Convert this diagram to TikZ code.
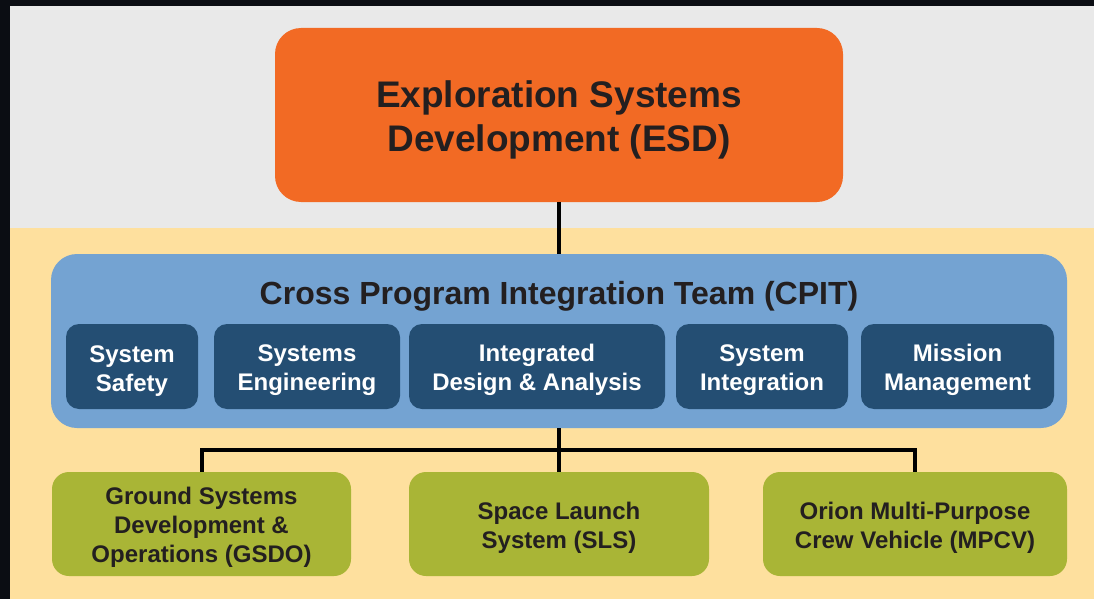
\documentclass[tikz,border=0pt]{standalone}
\usepackage{fontspec}
\setmainfont{Liberation Sans}
\definecolor{bgdark}{HTML}{0B0D13}
\definecolor{bandgray}{HTML}{E9E9E9}
\definecolor{bandyellow}{HTML}{FEE09E}
\definecolor{esdorange}{HTML}{F26A24}
\definecolor{cpitblue}{HTML}{74A3D2}
\definecolor{teamblue}{HTML}{244E73}
\definecolor{progreen}{HTML}{A9B536}
\definecolor{inkdark}{HTML}{231F20}
\newcommand{\textdrop}[1]{\rule{0pt}{#1}}
\tikzset{
  esdbox/.style={fill=esdorange, rounded corners=26pt, minimum width=568pt, minimum height=174pt,
    inner sep=0pt, align=center, text=inkdark, font=\fontsize{37}{44}\selectfont\bfseries},
  cpitbox/.style={fill=cpitblue, rounded corners=26pt, minimum width=1016pt, minimum height=174pt, inner sep=0pt},
  cpittext/.style={inner sep=0pt, text=inkdark, font=\fontsize{32}{38}\selectfont\bfseries},
  teambox/.style={fill=teamblue, rounded corners=13pt, minimum height=85pt, inner sep=0pt,
    align=center, text=white, font=\fontsize{24}{29}\selectfont\bfseries},
  progbox/.style={fill=progreen, rounded corners=17pt, minimum height=104pt, inner sep=0pt,
    align=center, text=inkdark, font=\fontsize{24}{29}\selectfont\bfseries},
  orgline/.style={draw=black, line width=4pt, line join=miter}
}
\begin{document}
\begin{tikzpicture}[x=1pt,y=-1pt]
\useasboundingbox (0,0) rectangle (1094,599);
\fill[bgdark] (0,0) rectangle (1094,599);
\fill[bandgray] (10,6) rectangle (1094,228);
\fill[bandyellow] (10,228) rectangle (1094,599);

\node[esdbox] (esd) at (559,115) {\textdrop{37pt}Exploration Systems\\Development (ESD)};
\node[cpitbox] (cpit) at (559,341) {};
\node[cpittext] (cpittitle) at (559,296) {Cross Program Integration Team (CPIT)};

\node[teambox, minimum width=132pt] (safety) at (132,366.5) {\textdrop{25pt}System\\Safety};
\node[teambox, minimum width=186pt] (syseng) at (307,366.5) {\textdrop{25pt}Systems\\Engineering};
\node[teambox, minimum width=256pt] (ida) at (537,366.5) {\textdrop{25pt}Integrated\\Design \& Analysis};
\node[teambox, minimum width=172pt] (sysint) at (762,366.5) {\textdrop{25pt}System\\Integration};
\node[teambox, minimum width=193pt] (mission) at (957.5,366.5) {\textdrop{25pt}Mission\\Management};

\node[progbox, minimum width=299pt] (gsdo) at (201.5,524) {\textdrop{24pt}Ground Systems\\Development \&\\Operations (GSDO)};
\node[progbox, minimum width=300pt] (sls) at (559,524) {\textdrop{24pt}Space Launch\\System (SLS)};
\node[progbox, minimum width=304pt] (mpcv) at (915,524) {\textdrop{24pt}Orion Multi-Purpose\\Crew Vehicle (MPCV)};

\coordinate (bus) at (559,450);
\draw[orgline] (esd.south) -- (cpit.north);
\draw[orgline] (cpit.south) -- (sls.north);
\draw[orgline] (gsdo.north) -- (gsdo.north |- bus) -- (mpcv.north |- bus) -- (mpcv.north);
\end{tikzpicture}
\end{document}
